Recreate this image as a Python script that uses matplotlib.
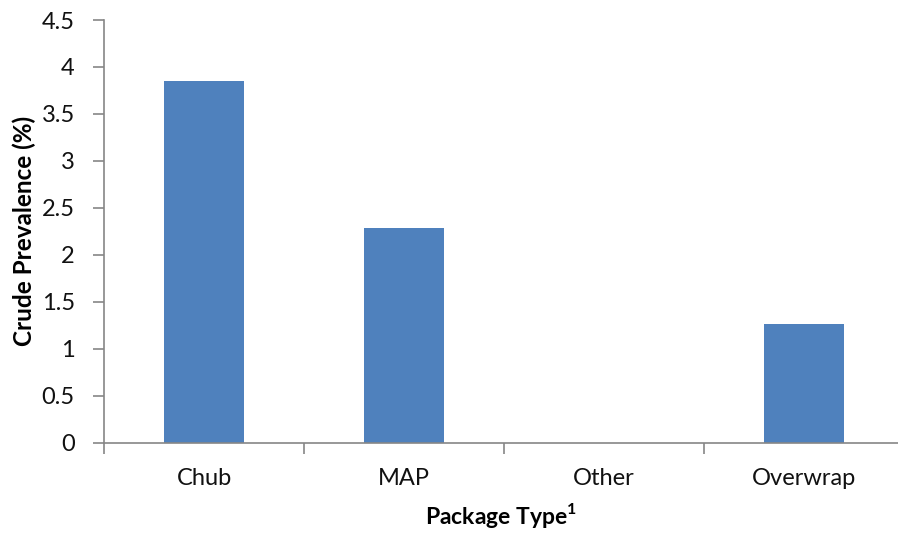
import matplotlib
matplotlib.use("Agg")
import matplotlib.pyplot as plt
import numpy as np

categories = ["Chub", "MAP", "Other", "Overwrap"]
values = [3.85, 2.29, 0.0, 1.26]
yticks = [0, 0.5, 1, 1.5, 2, 2.5, 3, 3.5, 4, 4.5]
ytick_labels = ["0", "0.5", "1", "1.5", "2", "2.5", "3", "3.5", "4", "4.5"]

plt.rcParams['font.family'] = ['Lato', 'DejaVu Sans']
plt.rcParams['mathtext.fontset'] = 'custom'
plt.rcParams['mathtext.bf'] = 'Lato:bold'
plt.rcParams['mathtext.rm'] = 'Lato'

fig = plt.figure(figsize=(8.98, 5.35), dpi=100)
W, H = 898, 535
left, right, top, bottom = 104, 898, 20, 442.7
ax = fig.add_axes([left / W, 1 - bottom / H, (right - left) / W, (bottom - top) / H])

x = np.arange(len(categories))
ax.bar(x, values, width=0.4, color="#4F81BD")

ax.set_ylim(0, 4.5)
ax.set_xlim(-0.5, 3.5 - (904 - 898) / 200)
ax.set_yticks(yticks)
ax.set_yticklabels(ytick_labels)
ax.set_xticks(x)
ax.set_xticklabels(categories)
ax.set_xticks(np.arange(-0.5, 3.0, 1.0), minor=True)

for s in ["top", "right"]:
    ax.spines[s].set_visible(False)
for s in ["left", "bottom"]:
    ax.spines[s].set_color("#868686")
    ax.spines[s].set_linewidth(1.2)

ax.tick_params(axis="y", which="major", direction="out", length=8, width=1.2,
               color="#868686", labelsize=17, pad=13, labelcolor="#111111")
ax.tick_params(axis="x", which="major", length=0, labelsize=17, pad=18, labelcolor="#111111")
ax.tick_params(axis="x", which="minor", direction="out", length=8, width=1.2, color="#868686")

ax.set_ylabel("Crude Prevalence (%)", fontsize=17.5, fontweight="bold", labelpad=4)
ax.set_xlabel(r"Package Type$^{\mathbf{1}}$", fontsize=16.5, fontweight="bold", labelpad=9)

fig.savefig("out.png", dpi=100)
